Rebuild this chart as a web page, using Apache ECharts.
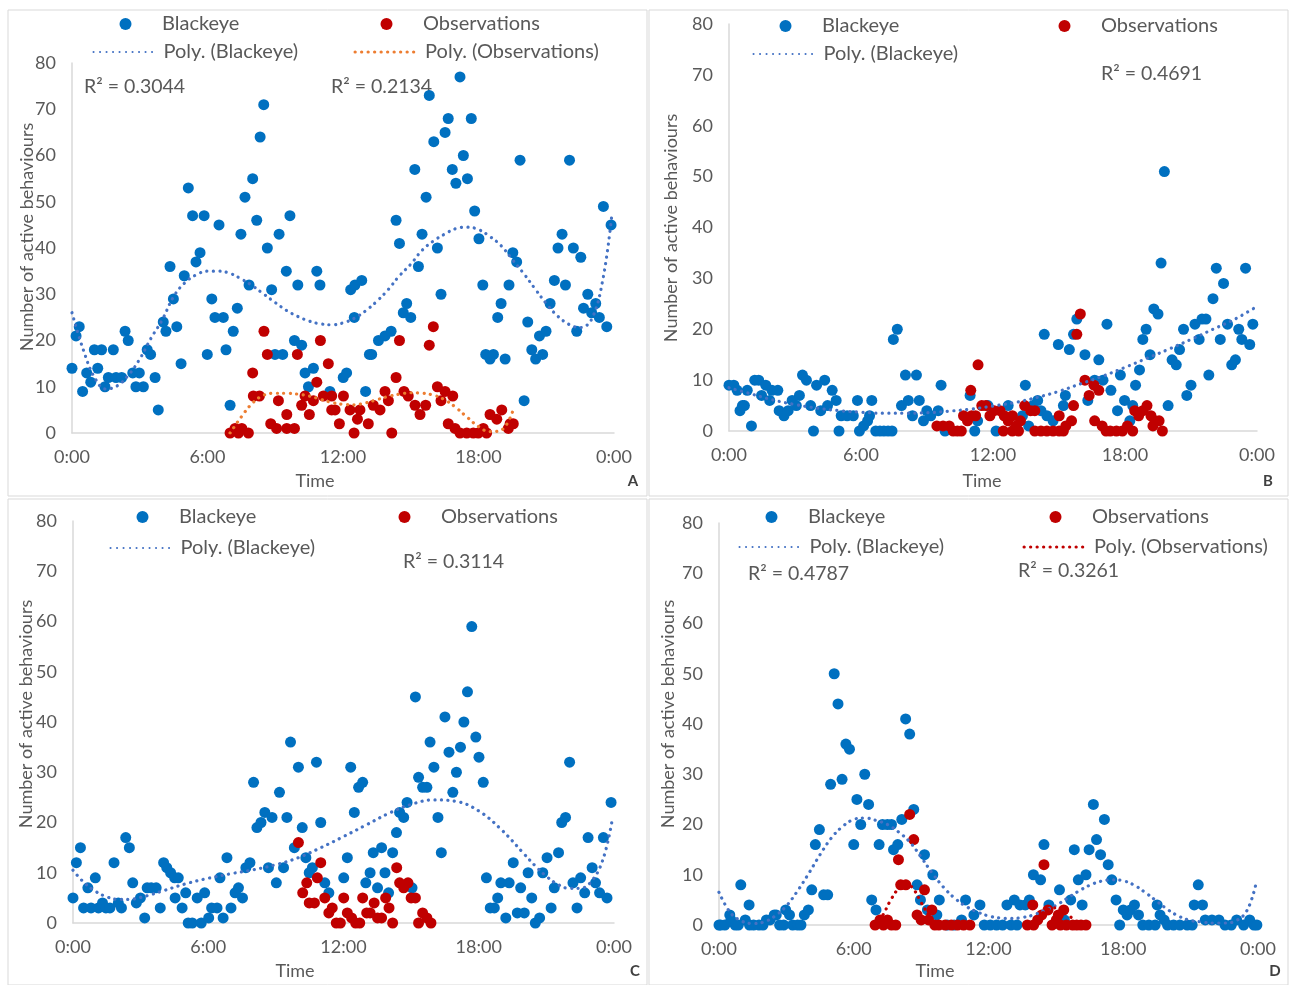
<!DOCTYPE html>
<html>
<head>
<meta charset="utf-8">
<script src="https://cdn.jsdelivr.net/npm/echarts@6/dist/echarts.min.js"></script>
<style>
  html, body { margin: 0; padding: 0; background: #fff; }
  #main { width: 1289px; height: 985px; }
</style>
</head>
<body>
<div id="main"></div>
<script>
// x axis: hours of the day, ticks every 6h
var hourTicks = [0, 6, 12, 18, 24]
var yName = 'Number of active behaviours'
var panelLetters = ['A', 'B', 'C', 'D']

// ---------- A ----------
var blackeyeA = [[0,14],[0.18,21],[0.32,23],[0.47,9],[0.65,13],[0.83,11],[0.99,18],[1.14,14],[1.31,18],[1.46,10],[1.61,12],[1.83,18],[1.95,12],[2.2,12],[2.35,22],[2.49,20],[2.69,13],[2.83,10],[2.98,13],[3.16,10],[3.33,18],[3.48,17],[3.68,12],[3.82,5],[4.04,24],[4.16,22],[4.34,36],[4.49,29],[4.64,23],[4.83,15],[4.97,34],[5.15,53],[5.34,47],[5.49,37],[5.67,39],[5.85,47],[5.99,17],[6.19,29],[6.33,25],[6.51,45],[6.7,25],[6.82,18],[7.0,6],[7.14,22],[7.32,27],[7.48,43],[7.66,51],[7.84,32],[8.0,55],[8.18,46],[8.33,64],[8.49,71],[8.65,40],[8.84,31],[8.99,17],[9.17,43],[9.33,17],[9.49,35],[9.65,47],[9.85,20],[10.0,32],[10.17,19],[10.32,13],[10.47,10],[10.69,14],[10.84,35],[10.98,32],[11.42,9],[12.01,12],[12.16,13],[12.34,31],[12.5,25],[12.53,32],[12.83,33],[13.0,9],[13.17,17],[13.27,17],[13.57,20],[13.86,21],[14.13,22],[14.35,46],[14.5,41],[14.67,26],[14.82,28],[15.0,25],[15.18,57],[15.34,36],[15.5,43],[15.68,51],[15.82,73],[16.02,63],[16.18,40],[16.34,30],[16.52,65],[16.66,68],[16.84,57],[17.0,54],[17.18,77],[17.33,60],[17.51,55],[17.68,68],[17.83,48],[18.02,42],[18.19,32],[18.32,17],[18.51,16],[18.66,17],[18.85,25],[19.0,28],[19.18,16],[19.35,32],[19.52,39],[19.69,37],[19.84,59],[20.02,7],[20.18,24],[20.36,18],[20.53,16],[20.7,21],[20.84,17],[20.99,22],[21.17,28],[21.36,33],[21.52,40],[21.7,43],[21.85,32],[22.03,59],[22.2,40],[22.35,22],[22.53,38],[22.65,27],[22.84,30],[23.01,26],[23.19,28],[23.35,25],[23.53,49],[23.68,23],[23.87,45]]
var observationsA = [[7.0,0],[7.22,1],[7.37,0],[7.52,1],[7.81,0],[8.0,13],[8.03,8],[8.3,8],[8.5,22],[8.65,17],[8.8,2],[9.06,1],[9.14,7],[9.51,4],[9.51,1],[9.85,1],[9.98,17],[10.17,6],[10.32,8],[10.51,4],[10.69,7],[10.84,11],[11.0,20],[11.13,8],[11.35,15],[11.5,8],[11.5,5],[11.65,5],[11.84,2],[12.02,8],[12.31,5],[12.49,0],[12.64,3],[12.75,5],[13.12,2],[13.34,6],[13.64,5],[13.86,9],[14.01,7],[14.16,0],[14.35,12],[14.5,20],[14.7,9],[14.89,8],[15.19,6],[15.41,4],[15.66,6],[15.82,19],[16.0,23],[16.18,10],[16.34,7],[16.52,9],[16.66,2],[16.86,8],[16.96,1],[17.18,0],[17.48,0],[17.77,0],[17.99,0],[18.21,1],[18.36,0],[18.51,4],[18.81,3],[19.03,5],[19.32,1],[19.4,2],[19.54,2]]
var polyBlackeyeA = [[0,26],[0.5,18],[1,12],[1.5,9.5],[2,10.2],[2.5,12.5],[3,16],[3.5,20.5],[4,24.5],[4.5,29.5],[5,32.5],[5.5,34.2],[6,35],[6.5,35],[7,34.5],[7.5,33.3],[8,31.8],[8.5,30],[9,28.2],[9.5,26.5],[10,25.2],[10.5,24.2],[11,23.6],[11.5,23.4],[12,23.8],[12.5,24.8],[13,26.4],[13.5,28.5],[14,31],[14.5,34],[15,36.5],[15.5,39.5],[16,41.5],[16.5,43],[17,44.2],[17.5,44.5],[18,44],[18.5,42.5],[19,40.5],[19.5,37.5],[20,34.5],[20.5,31.2],[21,28],[21.5,25.3],[22,23.5],[22.5,22.8],[23,24.5],[23.5,33],[23.9,47]]
var polyObservationsA = [[7.0,0],[7.5,3.5],[8,6.5],[8.5,8.2],[9,8.6],[9.5,8.6],[10,8.4],[10.5,8],[11,7.3],[11.5,6.6],[12,6.2],[12.5,6.1],[13,6.5],[13.5,7.2],[14,7.9],[14.5,8.4],[15,8.7],[15.5,8.6],[16,8.2],[16.5,7.2],[17,5.5],[17.5,3.4],[18,1.4],[18.5,0.3],[19,0.6],[19.5,4.5]]

// ---------- B ----------
var blackeyeB = [[0,9],[0.22,9],[0.37,8],[0.5,4],[0.61,5],[0.7,5],[0.83,8],[1.02,1],[1.17,10],[1.35,10],[1.48,7],[1.67,9],[1.85,6],[1.95,8],[2.22,8],[2.28,4],[2.5,3],[2.69,4],[2.87,6],[3.06,5],[3.2,7],[3.34,11],[3.52,10],[3.71,5],[3.84,0],[3.98,9],[4.17,4],[4.35,10],[4.48,5],[4.69,8],[4.87,6],[5.0,0],[5.1,3],[5.37,3],[5.65,3],[5.84,6],[5.93,0],[6.12,1],[6.3,2],[6.39,3],[6.49,6],[6.67,0],[6.86,0],[7.04,0],[7.23,0],[7.41,0],[7.47,18],[7.65,20],[7.84,5],[8.02,11],[8.15,6],[8.34,3],[8.52,11],[8.65,6],[8.84,2],[8.99,4],[9.17,3],[9.51,4],[9.64,9],[9.82,0],[10.96,7],[11.17,0],[11.3,2],[11.77,5],[12.14,0],[12.69,5],[13.34,3],[13.47,9],[13.62,1],[13.81,5],[14.03,6],[14.18,4],[14.33,19],[14.45,3],[14.73,2],[14.97,17],[15.2,5],[15.29,7],[15.47,16],[15.66,19],[15.81,22],[16.18,15],[16.31,6],[16.62,10],[16.81,14],[17.0,10],[17.18,21],[17.36,8],[17.66,4],[17.79,11],[17.98,6],[18.22,2],[18.35,5],[18.48,9],[18.66,12],[18.81,18],[18.96,20],[19.14,15],[19.31,24],[19.5,23],[19.64,33],[19.79,51],[19.96,5],[20.14,14],[20.33,13],[20.48,16],[20.66,20],[20.81,7],[21.0,9],[21.18,21],[21.37,18],[21.5,22],[21.68,22],[21.81,11],[22.0,26],[22.15,32],[22.33,18],[22.48,29],[22.66,21],[22.85,13],[23.02,14],[23.17,20],[23.31,18],[23.48,32],[23.67,17],[23.81,21]]
var observationsB = [[9.45,1],[9.73,1],[10.01,1],[10.19,0],[10.38,0],[10.56,0],[10.66,3],[10.84,2],[10.99,8],[11.03,3],[11.21,3],[11.32,13],[11.49,5],[11.68,5],[11.86,3],[12.05,4],[12.32,4],[12.47,0],[12.51,3],[12.69,2],[12.88,3],[12.88,0],[13.06,1],[13.16,0],[13.25,2],[13.44,5],[13.71,4],[13.9,4],[13.9,0],[14.18,0],[14.45,0],[14.73,0],[15.01,0],[15.01,3],[15.2,0],[15.31,1],[15.57,2],[15.66,5],[15.81,19],[15.97,23],[16.18,10],[16.37,7],[16.59,9],[16.62,2],[16.81,8],[16.96,1],[17.14,0],[17.33,0],[17.61,0],[17.88,0],[18.11,1],[18.35,0],[18.44,4],[18.62,3],[18.81,4],[19.0,5],[19.18,3],[19.27,1],[19.36,2],[19.55,2],[19.7,0]]
var polyBlackeyeB = [[0,8.5],[1,7.3],[2,6.1],[3,5.2],[4,4.5],[5,4],[6,3.7],[7,3.5],[8,3.5],[9,3.6],[10,3.9],[11,4.3],[12,4.9],[13,5.6],[14,6.6],[15,7.8],[16,9.3],[17,10.8],[18,12.5],[19,14.3],[20,16.1],[21,18],[22,20],[23,22],[24,24.5]]

// ---------- C ----------
var blackeyeC = [[0,5],[0.15,12],[0.33,15],[0.47,3],[0.66,7],[0.8,3],[0.99,9],[1.13,3],[1.31,4],[1.46,3],[1.64,3],[1.82,12],[2.01,4],[2.15,3],[2.34,17],[2.5,15],[2.65,8],[2.81,4],[2.99,5],[3.18,1],[3.29,7],[3.47,7],[3.69,7],[3.87,3],[4.02,12],[4.16,11],[4.33,10],[4.51,9],[4.53,5],[4.67,9],[4.84,3],[5.0,6],[5.11,0],[5.29,0],[5.51,5],[5.69,0],[5.84,6],[6.02,1],[6.15,3],[6.39,3],[6.52,9],[6.66,1],[6.83,13],[7.01,3],[7.19,6],[7.34,7],[7.52,5],[7.67,11],[7.85,12],[8.01,28],[8.16,19],[8.34,20],[8.51,22],[8.67,11],[8.83,21],[9.02,8],[9.16,26],[9.34,11],[9.49,21],[9.65,36],[9.82,15],[10.0,31],[10.17,19],[10.33,13],[10.48,10],[10.62,11],[10.8,32],[10.99,20],[11.17,8],[11.35,6],[12.01,9],[12.17,13],[12.32,31],[12.48,22],[12.67,27],[12.85,28],[12.99,8],[13.18,10],[13.32,14],[13.51,7],[13.69,15],[13.84,10],[14.0,6],[14.18,14],[14.35,18],[14.49,22],[14.67,21],[14.82,24],[15.04,7],[15.19,45],[15.33,29],[15.51,27],[15.7,27],[15.84,36],[16.01,31],[16.19,21],[16.34,14],[16.5,41],[16.68,34],[16.85,26],[17.01,30],[17.19,35],[17.34,40],[17.5,46],[17.69,59],[17.87,37],[18.01,33],[18.2,28],[18.34,9],[18.51,3],[18.69,3],[18.84,5],[18.98,8],[19.2,1],[19.35,8],[19.53,12],[19.71,2],[19.86,7],[20.02,2],[20.19,10],[20.35,5],[20.51,0],[20.7,1],[20.84,10],[21.03,13],[21.21,3],[21.35,7],[21.54,14],[21.68,20],[21.85,21],[22.03,32],[22.18,8],[22.36,3],[22.52,9],[22.7,6],[22.85,17],[23.03,11],[23.18,8],[23.36,6],[23.53,17],[23.69,5],[23.87,24]]
var observationsC = [[10.0,16],[10.19,6],[10.37,8],[10.48,4],[10.71,4],[10.84,9],[10.99,12],[11.17,5],[11.35,2],[11.5,3],[11.68,0],[11.86,0],[12.01,5],[12.17,2],[12.36,1],[12.54,0],[12.72,0],[12.85,5],[13.03,2],[13.18,2],[13.36,4],[13.51,1],[13.69,1],[13.87,5],[14.02,3],[14.18,0],[14.36,11],[14.49,8],[14.67,7],[14.86,8],[15.0,5],[15.19,5],[15.33,0],[15.51,2],[15.7,1],[15.88,0]]
var polyBlackeyeC = [[0,10.5],[0.5,8],[1,6.3],[1.5,5.2],[2,4.7],[2.5,4.7],[3,5.1],[3.5,5.7],[4,6.4],[5,7.8],[6,8.9],[7,9.8],[8,10.6],[9,11.6],[10,13],[11,15],[12,17.2],[13,19.5],[14,21.8],[15,23.6],[16,24.5],[17,24.2],[18,22.3],[19,18.6],[20,13.8],[20.5,11.4],[21,9.3],[21.5,7.7],[22,6.9],[22.5,6.9],[23,8.3],[23.5,12.5],[23.9,20]]

// ---------- D ----------
var blackeyeD = [[0,0],[0.07,0],[0.26,0],[0.48,2],[0.53,1],[0.72,0],[0.86,0],[0.97,8],[1.17,1],[1.34,4],[1.36,0],[1.54,0],[1.78,0],[1.96,0],[2.11,1],[2.27,1],[2.46,2],[2.55,2],[2.7,0],[2.88,0],[2.97,3],[3.14,2],[3.28,0],[3.5,0],[3.65,0],[3.8,2],[3.98,3],[4.13,7],[4.29,16],[4.47,19],[4.66,6],[4.84,6],[4.97,28],[5.13,50],[5.3,44],[5.48,29],[5.65,36],[5.81,35],[6.0,16],[6.14,25],[6.31,20],[6.49,30],[6.66,24],[6.8,5],[6.99,3],[7.13,16],[7.28,20],[7.5,20],[7.68,20],[7.77,15],[7.96,16],[8.14,21],[8.31,41],[8.49,38],[8.67,23],[8.82,8],[8.97,5],[9.15,14],[9.28,3],[9.52,10],[9.7,2],[9.81,5],[10.16,0],[10.47,0],[10.8,1],[10.98,5],[11.35,2],[11.62,4],[11.81,0],[12.08,0],[12.36,0],[12.63,0],[12.82,4],[13.0,0],[13.15,5],[13.27,0],[13.4,4],[13.64,4],[13.82,5],[14.0,10],[14.32,9],[14.47,16],[14.69,4],[15.16,7],[15.38,1],[15.66,5],[15.82,15],[16.0,9],[16.17,4],[16.34,10],[16.48,15],[16.67,24],[16.81,17],[16.99,14],[17.16,21],[17.33,12],[17.49,9],[17.68,5],[17.84,0],[18.0,3],[18.17,2],[18.32,3],[18.5,4],[18.68,2],[18.87,0],[19.14,0],[19.42,0],[19.51,4],[19.64,2],[19.82,1],[19.97,0],[20.24,0],[20.52,0],[20.85,0],[21.07,0],[21.16,4],[21.34,8],[21.53,4],[21.65,1],[21.95,1],[22.26,1],[22.53,0],[22.81,0],[23.05,1],[23.36,0],[23.63,1],[23.82,0],[23.95,0]]
var observationsD = [[6.95,0],[7.17,1],[7.32,0],[7.5,1],[7.68,0],[7.87,0],[7.99,13],[8.09,8],[8.32,8],[8.49,22],[8.67,17],[8.82,2],[9.0,1],[9.15,7],[9.33,1],[9.48,3],[9.61,0],[9.79,0],[10.07,0],[10.34,0],[10.62,0],[10.89,0],[11.17,0],[13.73,0],[13.97,4],[14.01,0],[14.19,1],[14.37,2],[14.47,12],[14.65,3],[14.83,0],[15.02,1],[15.11,2],[15.2,0],[15.35,3],[15.47,0],[15.75,0],[15.93,0],[16.12,0],[16.34,0]]
var polyBlackeyeD = [[0,6.5],[0.5,2.5],[1,0.8],[1.5,0.3],[2,0.6],[2.5,1.8],[3,3.8],[3.5,6.8],[4,10.3],[4.5,14],[5,17.3],[5.5,19.6],[6,21],[6.5,21.3],[7,20.8],[7.5,20],[8,18.5],[8.5,16.5],[9,13.5],[9.5,10.3],[10,7.5],[10.5,5.3],[11,3.7],[11.5,2.6],[12,1.8],[12.5,1.4],[13,1.3],[13.5,1.5],[14,2],[14.5,2.9],[15,3.9],[15.5,5.3],[16,6.7],[16.5,7.9],[17,8.7],[17.5,9],[18,8.8],[18.5,7.9],[19,6.4],[19.5,4.7],[20,3],[20.5,1.7],[21,0.9],[21.5,0.6],[22,0.4],[22.5,0.4],[23,0.8],[23.5,2.8],[23.9,8]]
var polyObservationsD = [[6.95,0],[7.3,2],[7.6,4.6],[8,7.3],[8.3,8.1],[8.6,7.5],[9,4.5],[9.4,1.5],[9.8,-1],[10.5,-3],[12,-4],[13.5,-1],[13.8,0],[14.2,1.5],[14.7,3.2],[15.1,3.4],[15.5,2.3],[15.9,0.5],[16.34,-1]]

// R² labels per panel
var rSquaredA = ['R² = 0.3044', 'R² = 0.2134']
var rSquaredB = ['R² = 0.4691']
var rSquaredC = ['R² = 0.3114']
var rSquaredD = ['R² = 0.4787', 'R² = 0.3261']

// colours
var BLUE = '#0070c0', RED = '#c00000', TREND_BLUE = '#4472c4', ORANGE = '#ed7d31', TEXT = '#595959'
var FONT = 'Lato, "Open Sans", sans-serif'

// layout of the four panels (pixels)
var panels = [
  { grid: {left: 72, top: 63, width: 542, height: 370}, box: [8, 10, 639, 486], yNameX: 27, yNameY: 237, timeX: 315, timeY: 481, letterX: 633,
    legendRow1: 24, legendRow2: 52, legendCols: [124, 385], r2: [[84, 87], [331, 87]] },
  { grid: {left: 729, top: 24, width: 528, height: 407}, box: [649, 10, 639, 486], yNameX: 671, yNameY: 228, timeX: 982, timeY: 481, letterX: 1268,
    legendRow1: 26, legendRow2: 54, legendCols: [784, 1063], r2: [[1101, 74]] },
  { grid: {left: 73, top: 521, width: 541, height: 402}, box: [8, 499, 639, 486], yNameX: 26, yNameY: 714, timeX: 295, timeY: 971, letterX: 635,
    legendRow1: 517, legendRow2: 548, legendCols: [141, 403], r2: [[403, 562]] },
  { grid: {left: 719, top: 523, width: 539, height: 402}, box: [649, 499, 639, 486], yNameX: 668, yNameY: 714, timeX: 935, timeY: 971, letterX: 1275,
    legendRow1: 517, legendRow2: 547, legendCols: [770, 1054], r2: [[748, 574], [1018, 571]] }
]

var panelData = [
  {blackeye: blackeyeA, obs: observationsA, polyB: polyBlackeyeA, polyO: polyObservationsA, polyOColor: ORANGE, r2: rSquaredA},
  {blackeye: blackeyeB, obs: observationsB, polyB: polyBlackeyeB, r2: rSquaredB},
  {blackeye: blackeyeC, obs: observationsC, polyB: polyBlackeyeC, r2: rSquaredC},
  {blackeye: blackeyeD, obs: observationsD, polyB: polyBlackeyeD, polyO: polyObservationsD, polyOColor: RED, r2: rSquaredD}
]

var dotted = function (color) {
  return {color: color, width: 3.2, type: [0.1, 6.4], cap: 'round'}
}

var grids = [], xAxes = [], yAxes = [], series = [], legends = [], graphics = []

// one legend component per entry so each can sit where the reference has it
// marker entries: the circle is drawn at the left of the item, so shift by its radius
var legendItem = function (name, cx, cy, extra, isMarker) {
  var item = {name: name}
  if (extra) Object.assign(item, extra)
  return {
    data: [item], left: isMarker ? cx - 4.5 : cx - 31.5, top: cy - 10, padding: 0, itemWidth: 63, itemHeight: 12,
    itemGap: 0, selectedMode: false, symbolKeepAspect: true,
    textStyle: {color: TEXT, fontSize: 20, fontFamily: FONT, padding: [0, 0, 0, isMarker ? 0 : 2]}
  }
}

panels.forEach(function (p, i) {
  var d = panelData[i]
  grids.push(p.grid)
  xAxes.push({
    gridIndex: i, type: 'value', min: hourTicks[0], max: hourTicks[hourTicks.length - 1], interval: 6,
    axisLine: {lineStyle: {color: '#d9d9d9', width: 1.5}},
    axisTick: {show: false}, splitLine: {show: false},
    axisLabel: {color: TEXT, fontSize: 18, fontFamily: FONT, margin: 15,
      formatter: function (v) { return (v % 24) + ':00' }}
  })
  yAxes.push({
    gridIndex: i, type: 'value', min: 0, max: 80, interval: 10,
    axisLine: {show: true, lineStyle: {color: '#d9d9d9', width: 1.5}},
    axisTick: {show: false}, splitLine: {show: false},
    axisLabel: {color: TEXT, fontSize: 18, fontFamily: FONT, margin: 16}
  })

  series.push({name: 'Blackeye', type: 'scatter', xAxisIndex: i, yAxisIndex: i, data: d.blackeye,
    symbolSize: 11, itemStyle: {color: BLUE, opacity: 1}, z: 2})
  series.push({name: 'Observations', type: 'scatter', xAxisIndex: i, yAxisIndex: i, data: d.obs,
    symbolSize: 11, itemStyle: {color: RED, opacity: 1}, z: 3})
  series.push({name: 'Poly. (Blackeye)', type: 'line', xAxisIndex: i, yAxisIndex: i, data: d.polyB,
    smooth: 0.4, symbol: 'none', lineStyle: dotted(TREND_BLUE), itemStyle: {color: TREND_BLUE}, z: 4, silent: true})
  if (d.polyO) {
    series.push({name: 'Poly. (Observations)', type: 'line', xAxisIndex: i, yAxisIndex: i, data: d.polyO,
      smooth: 0.4, symbol: 'none', lineStyle: dotted(d.polyOColor), itemStyle: {color: d.polyOColor}, z: 4, silent: true})
  }

  // legend: marker row, then trendline row
  legends.push(legendItem('Blackeye', p.legendCols[0], p.legendRow1, {icon: 'circle'}, true))
  legends.push(legendItem('Observations', p.legendCols[1], p.legendRow1, {icon: 'circle'}, true))
  legends.push(legendItem('Poly. (Blackeye)', p.legendCols[0], p.legendRow2,
    {icon: 'inherit', itemStyle: {opacity: 0}}))
  if (d.polyO) {
    legends.push(legendItem('Poly. (Observations)', p.legendCols[1], p.legendRow2,
      {icon: 'inherit', lineStyle: dotted(d.polyOColor), itemStyle: {color: d.polyOColor, opacity: 0}}))
  }

  // panel frame, axis titles, R² texts, letter
  graphics.push({type: 'rect', shape: {x: p.box[0], y: p.box[1], width: p.box[2], height: p.box[3]},
    style: {fill: null, stroke: '#d9d9d9', lineWidth: 1}, silent: true})
  graphics.push({type: 'text', x: p.yNameX, y: p.yNameY, rotation: Math.PI / 2,
    style: {text: yName, fill: TEXT, fontSize: 18, fontFamily: FONT, textAlign: 'center', textVerticalAlign: 'middle'}})
  graphics.push({type: 'text', x: p.timeX, y: p.timeY,
    style: {text: 'Time', fill: TEXT, fontSize: 18, fontFamily: FONT, textAlign: 'center', textVerticalAlign: 'middle'}})
  graphics.push({type: 'text', x: p.letterX, y: p.timeY,
    style: {text: panelLetters[i], fill: '#404040', fontSize: 15, fontWeight: 'bold', fontFamily: FONT, textAlign: 'center', textVerticalAlign: 'middle'}})
  d.r2.forEach(function (t, k) {
    graphics.push({type: 'text', x: p.r2[k][0], y: p.r2[k][1],
      style: {text: t, fill: TEXT, fontSize: 19.5, fontFamily: FONT, textAlign: 'left', textVerticalAlign: 'middle'}})
  })
})

var myChart = echarts.init(document.getElementById('main'), null, {renderer: 'canvas'})
myChart.setOption({
  backgroundColor: '#fff',
  animation: false,
  grid: grids,
  xAxis: xAxes,
  yAxis: yAxes,
  legend: legends,
  series: series,
  graphic: graphics
})
</script>
</body>
</html>
